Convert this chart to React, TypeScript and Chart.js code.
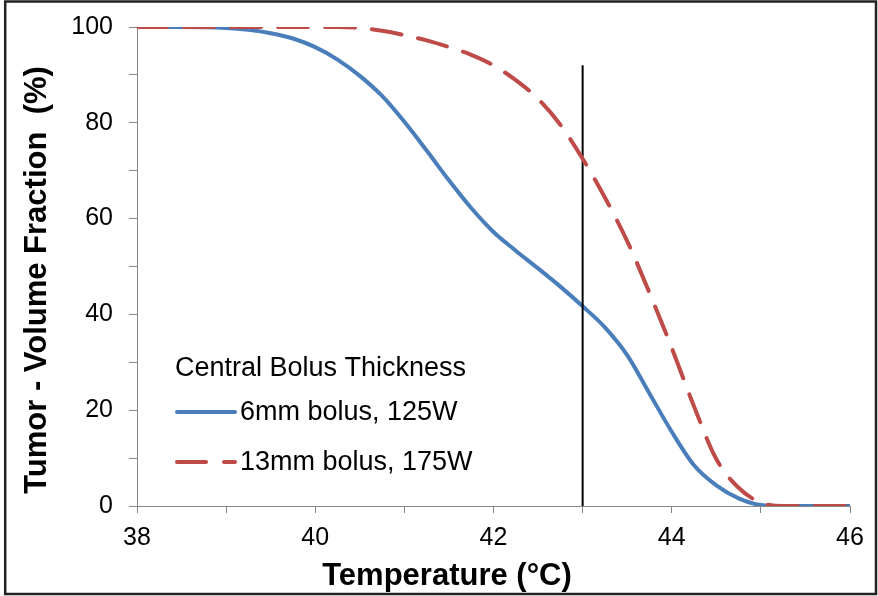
import React, { useEffect, useRef } from "react";
import { Chart, registerables } from "chart.js";

Chart.register(...registerables);

const temps = [38, 38.5, 39, 39.25, 39.5, 39.75, 40, 40.25, 40.5, 40.75, 41, 41.25, 41.5, 41.75, 42, 42.25, 42.5, 42.75, 43, 43.25, 43.5, 43.75, 44, 44.25, 44.5, 44.75, 45, 45.25, 45.5, 46];
const bolus6mm = [100, 100, 99.8, 99.4, 98.7, 97.6, 95.8, 93.2, 89.8, 85.6, 80.2, 74.2, 68.0, 62.2, 57.2, 53.3, 49.6, 45.8, 41.7, 37.3, 31.5, 23.5, 15.5, 8.5, 4.3, 1.6, 0.2, 0, 0, 0];
const bolus13mm = [100, 100, 100, 100, 100, 100, 100, 100, 99.8, 99.2, 98.3, 97.2, 95.8, 94.2, 92.0, 88.9, 85.0, 79.6, 72.5, 64.4, 55.3, 44.5, 33.0, 20.8, 9.8, 3.8, 0.7, 0, 0, 0];
const markerX = [43, 43];
const markerY = [0, 92];

const seriesNames = ["6mm bolus, 125W", "13mm bolus, 175W"];
const legendTitle = "Central Bolus Thickness";
const xTitle = "Temperature (°C)";
const yTitle = "Tumor - Volume Fraction  (%)";

const BLUE = "#4A7EBB";
const RED = "#BE4B48";
const FONT = '"Liberation Sans", Arial, sans-serif';

const overlayPlugin = {
  id: "overlay",
  afterDraw(chart: any) {
    const ctx = chart.ctx;
    ctx.save();
    // frame
    ctx.strokeStyle = "#222";
    ctx.lineWidth = 2.5;
    ctx.strokeRect(5.2, 1.5, 870.8, 592.5);
    // axis titles
    ctx.fillStyle = "#000";
    ctx.font = "bold 31px " + FONT;
    ctx.textAlign = "center";
    ctx.textBaseline = "alphabetic";
    ctx.fillText(xTitle, 447, 585);
    ctx.save();
    ctx.translate(46, 280);
    ctx.rotate(-Math.PI / 2);
    ctx.fillText(yTitle, 0, 0);
    ctx.restore();
    // legend
    ctx.font = "27px " + FONT;
    ctx.textAlign = "left";
    ctx.textBaseline = "middle";
    ctx.fillText(legendTitle, 175, 369);
    ctx.lineWidth = 4;
    ctx.lineCap = "round";
    ctx.strokeStyle = BLUE;
    ctx.beginPath();
    ctx.moveTo(177, 412);
    ctx.lineTo(235, 412);
    ctx.stroke();
    ctx.fillText(seriesNames[0], 240, 413);
    ctx.strokeStyle = RED;
    ctx.beginPath();
    ctx.moveTo(177, 462);
    ctx.lineTo(206, 462);
    ctx.moveTo(224, 462);
    ctx.lineTo(235, 462);
    ctx.stroke();
    ctx.fillText(seriesNames[1], 240, 463);
    ctx.restore();
  },
};

export default function App() {
  const ref = useRef<HTMLCanvasElement>(null);
  useEffect(() => {
    if (!ref.current) return;
    Chart.defaults.font.family = FONT;
    const chart = new Chart(ref.current, {
      type: "line",
      data: {
        datasets: [
          {
            label: seriesNames[1],
            data: temps.map((t, i) => ({ x: t, y: bolus13mm[i] })),
            borderColor: RED,
            borderWidth: 4,
            borderDash: [30, 17],
            borderCapStyle: "round",
            pointRadius: 0,
            cubicInterpolationMode: "monotone",
            order: 0,
          },
          {
            label: "marker",
            data: markerX.map((t, i) => ({ x: t, y: markerY[i] })),
            borderColor: "#000",
            borderWidth: 2,
            pointRadius: 0,
            order: 1,
          },
          {
            label: seriesNames[0],
            data: temps.map((t, i) => ({ x: t, y: bolus6mm[i] })),
            borderColor: BLUE,
            borderWidth: 4,
            pointRadius: 0,
            cubicInterpolationMode: "monotone",
            order: 2,
          },
        ],
      },
      options: {
        responsive: false,
        animation: false,
        layout: { padding: { top: 27, right: 28, left: 0, bottom: 0 } },
        plugins: { legend: { display: false }, tooltip: { enabled: false } },
        scales: {
          x: {
            type: "linear",
            min: 38,
            max: 46,
            ticks: {
              stepSize: 1,
              color: "#000",
              font: { size: 25 },
              padding: 10,
              maxRotation: 0,
              autoSkip: false,
              callback: (v: any) => (Number(v) % 2 === 0 ? String(v) : ""),
            },
            grid: { drawOnChartArea: false, drawTicks: true, tickLength: 7, color: "#868686" },
            border: { color: "#868686", width: 1 },
            afterFit: (s: any) => {
              s.height = 90;
              s.paddingLeft = 0;
              s.paddingRight = 0;
            },
          },
          y: {
            min: 0,
            max: 100,
            ticks: {
              stepSize: 10,
              color: "#000",
              font: { size: 25 },
              padding: 16,
              autoSkip: false,
              callback: (v: any) => (Number(v) % 20 === 0 ? String(v) : ""),
            },
            grid: { drawOnChartArea: false, drawTicks: true, tickLength: 8, color: "#868686" },
            border: { color: "#868686", width: 1 },
            afterFit: (s: any) => {
              s.width = 137;
              s.paddingTop = 0;
              s.paddingBottom = 0;
            },
          },
        },
      },
      plugins: [overlayPlugin],
    } as any);
    return () => chart.destroy();
  }, []);
  return (
    <div style={{ position: "fixed", left: 0, top: 0, width: 878, height: 596, background: "#fff" }}>
      <canvas ref={ref} width={878} height={596} />
    </div>
  );
}
